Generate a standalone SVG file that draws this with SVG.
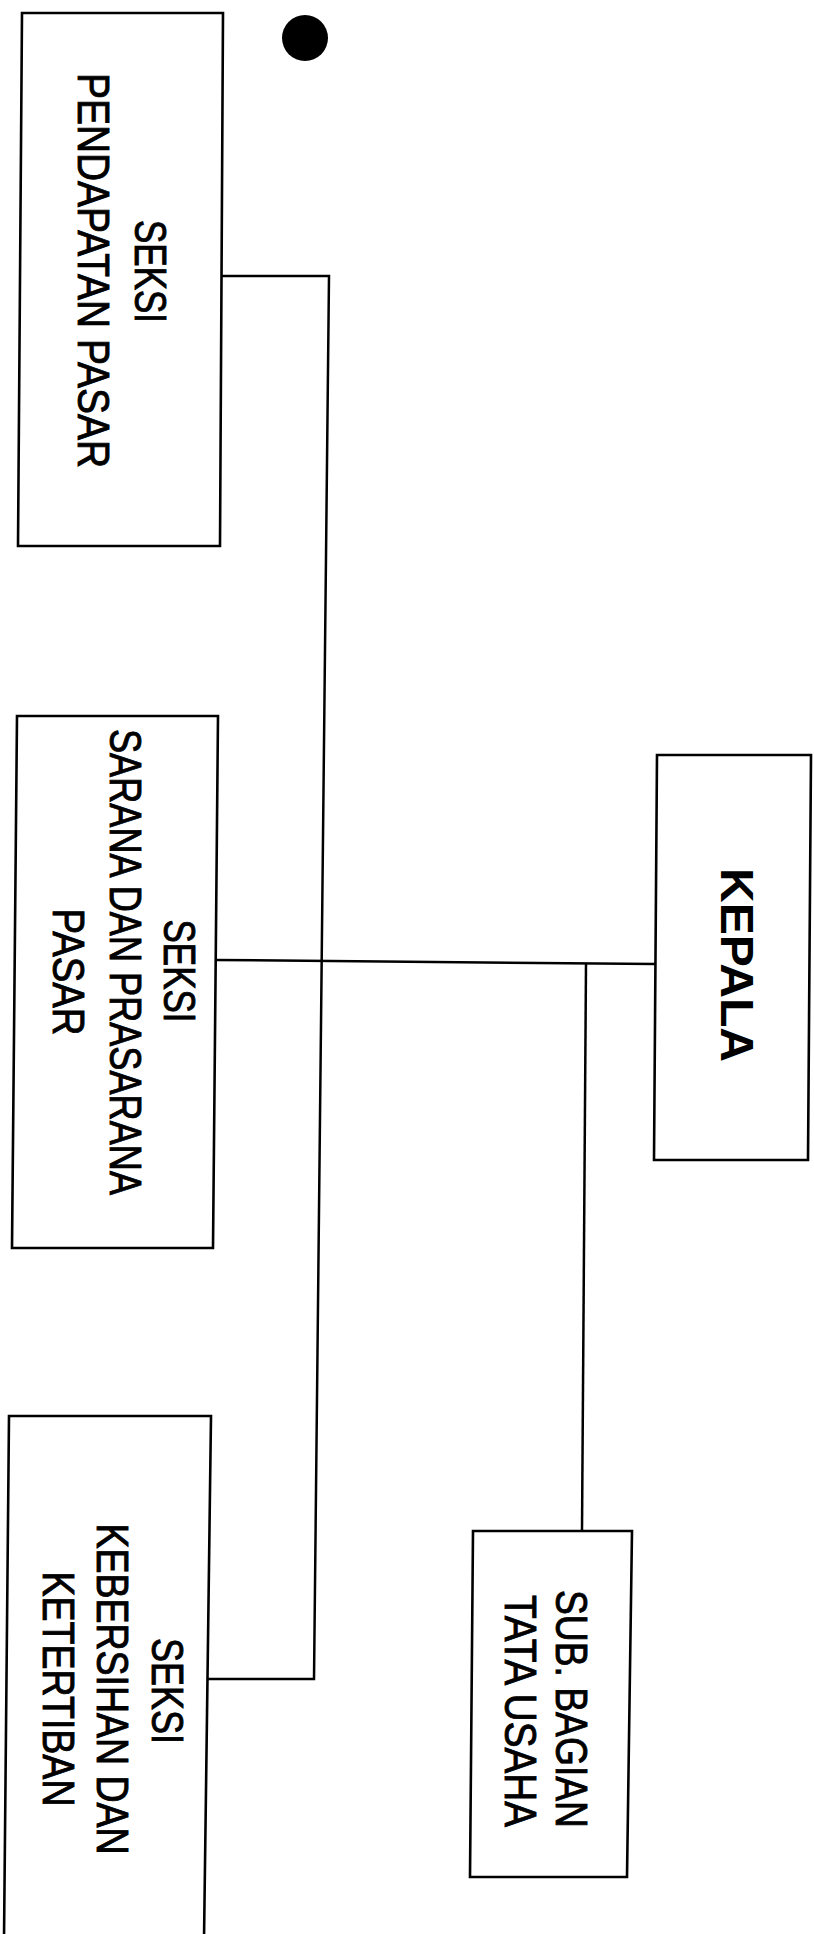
<svg xmlns="http://www.w3.org/2000/svg" width="814" height="1934" viewBox="0 0 814 1934">
<style>
.box{fill:none;stroke:#000;stroke-width:2.6;stroke-linejoin:miter}
.line{fill:none;stroke:#000;stroke-width:2.5}
.t{font-family:"Liberation Sans",Arial,sans-serif;font-size:44px;fill:#000;stroke:#000;stroke-width:0.9;text-anchor:middle}
.b{font-family:"Liberation Sans",Arial,sans-serif;font-size:47px;font-weight:bold;fill:#000;text-anchor:middle}
</style>
<rect width="814" height="1934" fill="#fff"/>
<circle cx="305" cy="38" r="23" fill="#000"/>
<g id="connectors">
<polyline class="line" points="222,276 329,276 314,1679 208,1679"/>
<polyline class="line" points="215,960 655,964"/>
<polyline class="line" points="586,963 582,1531"/>
</g>
<g id="seksi-pendapatan">
<polygon class="box" points="22,13 223,13 220,546 18,546"/>
<text class="t" transform="translate(135,271.5) rotate(90)" textLength="103" lengthAdjust="spacingAndGlyphs">SEKSI</text>
<text class="t" transform="translate(78,270.5) rotate(90)" textLength="395" lengthAdjust="spacingAndGlyphs">PENDAPATAN PASAR</text>
</g>
<g id="seksi-sarana">
<polygon class="box" points="17,716 218,716 213,1248 12,1248"/>
<text class="t" transform="translate(164,971) rotate(90)" textLength="103" lengthAdjust="spacingAndGlyphs">SEKSI</text>
<text class="t" transform="translate(110,962) rotate(90)" textLength="466" lengthAdjust="spacingAndGlyphs">SARANA DAN PRASARANA</text>
<text class="t" transform="translate(53,972) rotate(90)" textLength="127" lengthAdjust="spacingAndGlyphs">PASAR</text>
</g>
<g id="seksi-kebersihan">
<polygon class="box" points="4,1940 9,1416 211,1416 204,1940"/>
<text class="t" transform="translate(152,1691) rotate(90)" textLength="106" lengthAdjust="spacingAndGlyphs">SEKSI</text>
<text class="t" transform="translate(97,1689) rotate(90)" textLength="331" lengthAdjust="spacingAndGlyphs">KEBERSIHAN DAN</text>
<text class="t" transform="translate(43,1689) rotate(90)" textLength="235" lengthAdjust="spacingAndGlyphs">KETERTIBAN</text>
</g>
<g id="kepala">
<polygon class="box" points="657,755 811,755 808,1160 654,1160"/>
<text class="b" transform="translate(721,965) rotate(90)" textLength="194" lengthAdjust="spacingAndGlyphs">KEPALA</text>
</g>
<g id="sub-bagian-tata-usaha">
<polygon class="box" points="473,1531 632,1531 627,1877 470,1877"/>
<text class="t" transform="translate(556,1709) rotate(90)" textLength="238" lengthAdjust="spacingAndGlyphs">SUB. BAGIAN</text>
<text class="t" transform="translate(505,1711) rotate(90)" textLength="232" lengthAdjust="spacingAndGlyphs">TATA USAHA</text>
</g>
</svg>
